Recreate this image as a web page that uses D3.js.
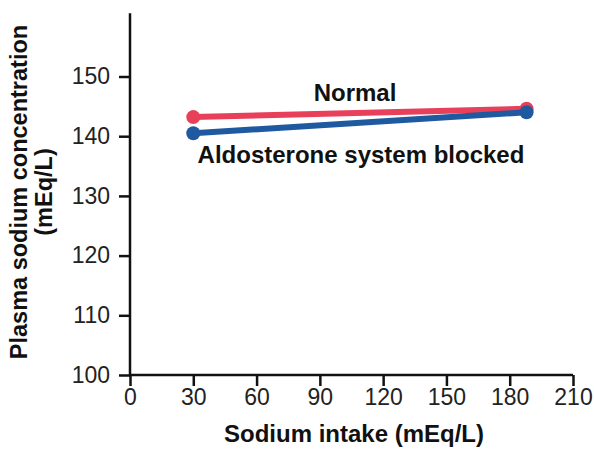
<!DOCTYPE html>
<html><head><meta charset="utf-8">
<script src="https://cdn.jsdelivr.net/npm/d3@7"></script>
<style>body{margin:0;background:#fff}svg{display:block}text{font-family:"Liberation Sans",Arial,sans-serif}</style>
</head><body>
<script>
const xTicks = [0,30,60,90,120,150,180,210];
const yTicks = [100,110,120,130,140,150];
const intake = [30, 188];
const normal = [143.2, 144.6];
const blocked = [140.5, 144.0];
const seriesNames = ["Normal", "Aldosterone system blocked"];

const W=594,H=450;
const svg=d3.select("body").append("svg").attr("width",W).attr("height",H);
const x=d3.scaleLinear().domain([0,210]).range([130,573]);
const y=d3.scaleLinear().domain([100,150]).range([375,76.5]);
const yTop=y(160.6);

const g=svg.append("g");
g.append("line").attr("x1",x(0)).attr("x2",x(0)).attr("y1",yTop).attr("y2",y(100)).attr("stroke","#111").attr("stroke-width",2.5);
g.append("line").attr("x1",x(0)-1).attr("x2",x(210)).attr("y1",y(100)).attr("y2",y(100)).attr("stroke","#111").attr("stroke-width",2.5);
const ya=g.append("g").attr("transform",`translate(${x(0)},0)`).call(d3.axisLeft(y).tickValues(yTicks).tickSize(11).tickPadding(9));
const xa=g.append("g").attr("transform",`translate(0,${y(100)})`).call(d3.axisBottom(x).tickValues(xTicks).tickSize(11).tickPadding(3));
[ya,xa].forEach(a=>{a.select(".domain").remove();a.selectAll("line").attr("stroke","#111").attr("stroke-width",2.5);
 a.selectAll("text").attr("font-size",23).attr("fill","#222").attr("font-family","Liberation Sans, Arial, sans-serif");});

const line=d3.line().x(d=>x(d[0])).y(d=>y(d[1]));
const colors={n:"#e8405a",b:"#1f5aa0"};
function draw(vals,c){
  const pts=intake.map((v,i)=>[v,vals[i]]);
  svg.append("path").attr("d",line(pts)).attr("stroke",c).attr("stroke-width",6).attr("fill","none");
  svg.selectAll(null).data(pts).enter().append("circle").attr("cx",d=>x(d[0])).attr("cy",d=>y(d[1])).attr("r",7).attr("fill",c);
}
draw(normal,colors.n);
draw(blocked,colors.b);

svg.append("text").attr("x",355).attr("y",101).attr("text-anchor","middle").attr("font-weight","bold").attr("font-size",24).attr("fill","#111").text(seriesNames[0]);
svg.append("text").attr("x",361).attr("y",163).attr("text-anchor","middle").attr("font-weight","bold").attr("font-size",24).attr("fill","#111").text(seriesNames[1]);

svg.append("text").attr("x",354).attr("y",442).attr("text-anchor","middle").attr("font-weight","bold").attr("font-size",24).attr("fill","#111").text("Sodium intake (mEq/L)");
const yl=svg.append("text").attr("transform","translate(27,192) rotate(-90)").attr("text-anchor","middle").attr("font-weight","bold").attr("font-size",23.5).attr("fill","#111");
yl.append("tspan").attr("x",0).attr("dy",0).text("Plasma sodium concentration");
yl.append("tspan").attr("x",0).attr("dy",25).text("(mEq/L)");
</script>
</body></html>
